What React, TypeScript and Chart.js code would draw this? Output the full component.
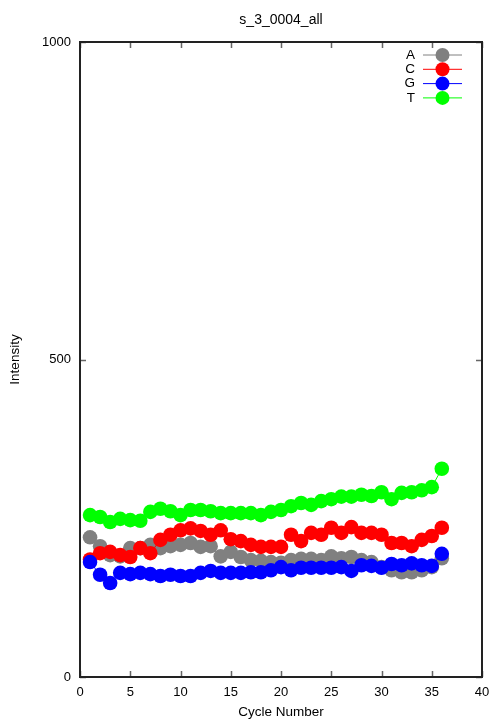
import React, { useEffect, useRef } from "react";
import { Chart, registerables } from "chart.js";

Chart.register(...registerables);

const cycles = [1,2,3,4,5,6,7,8,9,10,11,12,13,14,15,16,17,18,19,20,21,22,23,24,25,26,27,28,29,30,31,32,33,34,35,36];
const seriesA = [220,206,192,190,203,203,208,203,206,208,211,205,206,190,197,189,184,183,181,180,184,186,186,184,190,187,189,184,181,173,168,165,165,168,173,187];
const seriesC = [185,195,197,192,189,203,195,216,224,231,234,230,224,231,217,214,208,205,205,205,224,214,227,224,235,227,236,227,227,224,211,211,206,216,222,235];
const seriesG = [181,161,148,164,162,164,162,159,161,159,159,164,167,164,164,164,165,165,168,173,168,172,172,172,172,173,167,176,175,172,178,176,179,176,175,194];
const seriesT = [255,252,244,249,247,246,260,265,261,255,263,263,261,258,258,258,258,255,260,263,269,274,271,277,280,284,284,287,285,291,280,290,291,294,299,328];
const seriesNames = ["A", "C", "G", "T"];
const seriesColors = ["#808080", "#ff0000", "#0000ff", "#00ff00"];
const xTicks = [0,5,10,15,20,25,30,35,40];
const yTicks = [0,500,1000];

const FONT = "Liberation Sans, Arial, Helvetica, sans-serif";

const framePlugin = {
  id: "frameTicks",
  afterDraw(chart: any) {
    const ctx = chart.ctx;
    const a = chart.chartArea;
    const xs = chart.scales.x;
    const ys = chart.scales.y;
    ctx.save();
    ctx.strokeStyle = "#666";
    ctx.lineWidth = 1.5;
    const tl = 6;
    ctx.beginPath();
    xTicks.forEach((v) => {
      const px = Math.round(xs.getPixelForValue(v)) + 0.5;
      ctx.moveTo(px, a.bottom); ctx.lineTo(px, a.bottom - tl);
      ctx.moveTo(px, a.top); ctx.lineTo(px, a.top + tl);
    });
    yTicks.forEach((v) => {
      const py = Math.round(ys.getPixelForValue(v)) + 0.5;
      ctx.moveTo(a.left, py); ctx.lineTo(a.left + tl, py);
      ctx.moveTo(a.right, py); ctx.lineTo(a.right - tl, py);
    });
    ctx.stroke();
    ctx.strokeStyle = "#222";
    ctx.lineWidth = 2;
    ctx.strokeRect(a.left, a.top, a.right - a.left, a.bottom - a.top);
    ctx.fillStyle = "#000";
    ctx.font = "14px " + FONT;
    ctx.textAlign = "center";
    ctx.textBaseline = "middle";
    ctx.fillText("s_3_0004_all", (a.left + a.right) / 2, 20);
    const ds = chart.data.datasets;
    const textX = 415;
    const lx0 = 423, lx1 = 462;
    ds.forEach((d: any, i: number) => {
      const y = 55 + i * 14.3;
      ctx.fillStyle = "#000";
      ctx.font = "13.5px " + FONT;
      ctx.textAlign = "right";
      ctx.fillText(d.label, textX, y);
      ctx.strokeStyle = d.borderColor;
      ctx.lineWidth = 1;
      ctx.beginPath();
      ctx.moveTo(lx0, y); ctx.lineTo(lx1, y);
      ctx.stroke();
      ctx.fillStyle = d.backgroundColor;
      ctx.beginPath();
      ctx.arc((lx0 + lx1) / 2, y, 7, 0, Math.PI * 2);
      ctx.fill();
    });
    ctx.restore();
  },
};

export default function App() {
  const ref = useRef<HTMLCanvasElement>(null);
  useEffect(() => {
    document.body.style.margin = "0";
    const all = [seriesA, seriesC, seriesG, seriesT];
    const chart = new Chart(ref.current!, {
      type: "line",
      data: {
        labels: cycles,
        datasets: all.map((vals, i) => ({
          label: seriesNames[i],
          data: cycles.map((c, j) => ({ x: c, y: vals[j] })),
          borderColor: seriesColors[i],
          backgroundColor: seriesColors[i],
          borderWidth: 1,
          pointRadius: 7.3,
          pointBorderWidth: 0,
          pointHoverRadius: 7.3,
          tension: 0,
          order: 4 - i,
        })),
      },
      options: {
        responsive: false,
        animation: false,
        layout: { padding: { left: 0, top: 42, right: 22, bottom: 0 } },
        plugins: { legend: { display: false }, tooltip: { enabled: false }, title: { display: false } },
        scales: {
          x: {
            type: "linear",
            min: 0,
            max: 40,
            grid: { display: false, drawTicks: false },
            border: { display: false },
            afterBuildTicks: (s: any) => { s.ticks = xTicks.map((v) => ({ value: v })); },
            ticks: { padding: 8, color: "#000", font: { family: FONT, size: 13 }, maxRotation: 0, callback: (v: any) => String(v) },
            title: { display: true, text: "Cycle Number", color: "#000", font: { family: FONT, size: 13.5 }, padding: { top: 4, bottom: 0 } },
            afterFit: (s: any) => { s.height = 43; },
          },
          y: {
            min: 0,
            max: 1000,
            grid: { display: false, drawTicks: false },
            border: { display: false },
            afterBuildTicks: (s: any) => { s.ticks = yTicks.map((v) => ({ value: v })); },
            ticks: { padding: 9, color: "#000", font: { family: FONT, size: 13 }, callback: (v: any) => String(v) },
            title: { display: true, text: "Intensity", color: "#000", font: { family: FONT, size: 13.5 }, padding: { top: 7, bottom: 0 } },
            afterFit: (s: any) => { s.width = 80; },
          },
        },
      },
      plugins: [framePlugin],
    } as any);
    return () => chart.destroy();
  }, []);
  return (
    <div style={{ position: "absolute", left: 0, top: 0, width: 504, height: 720, background: "#fff" }}>
      <canvas ref={ref} width={504} height={720} />
    </div>
  );
}
